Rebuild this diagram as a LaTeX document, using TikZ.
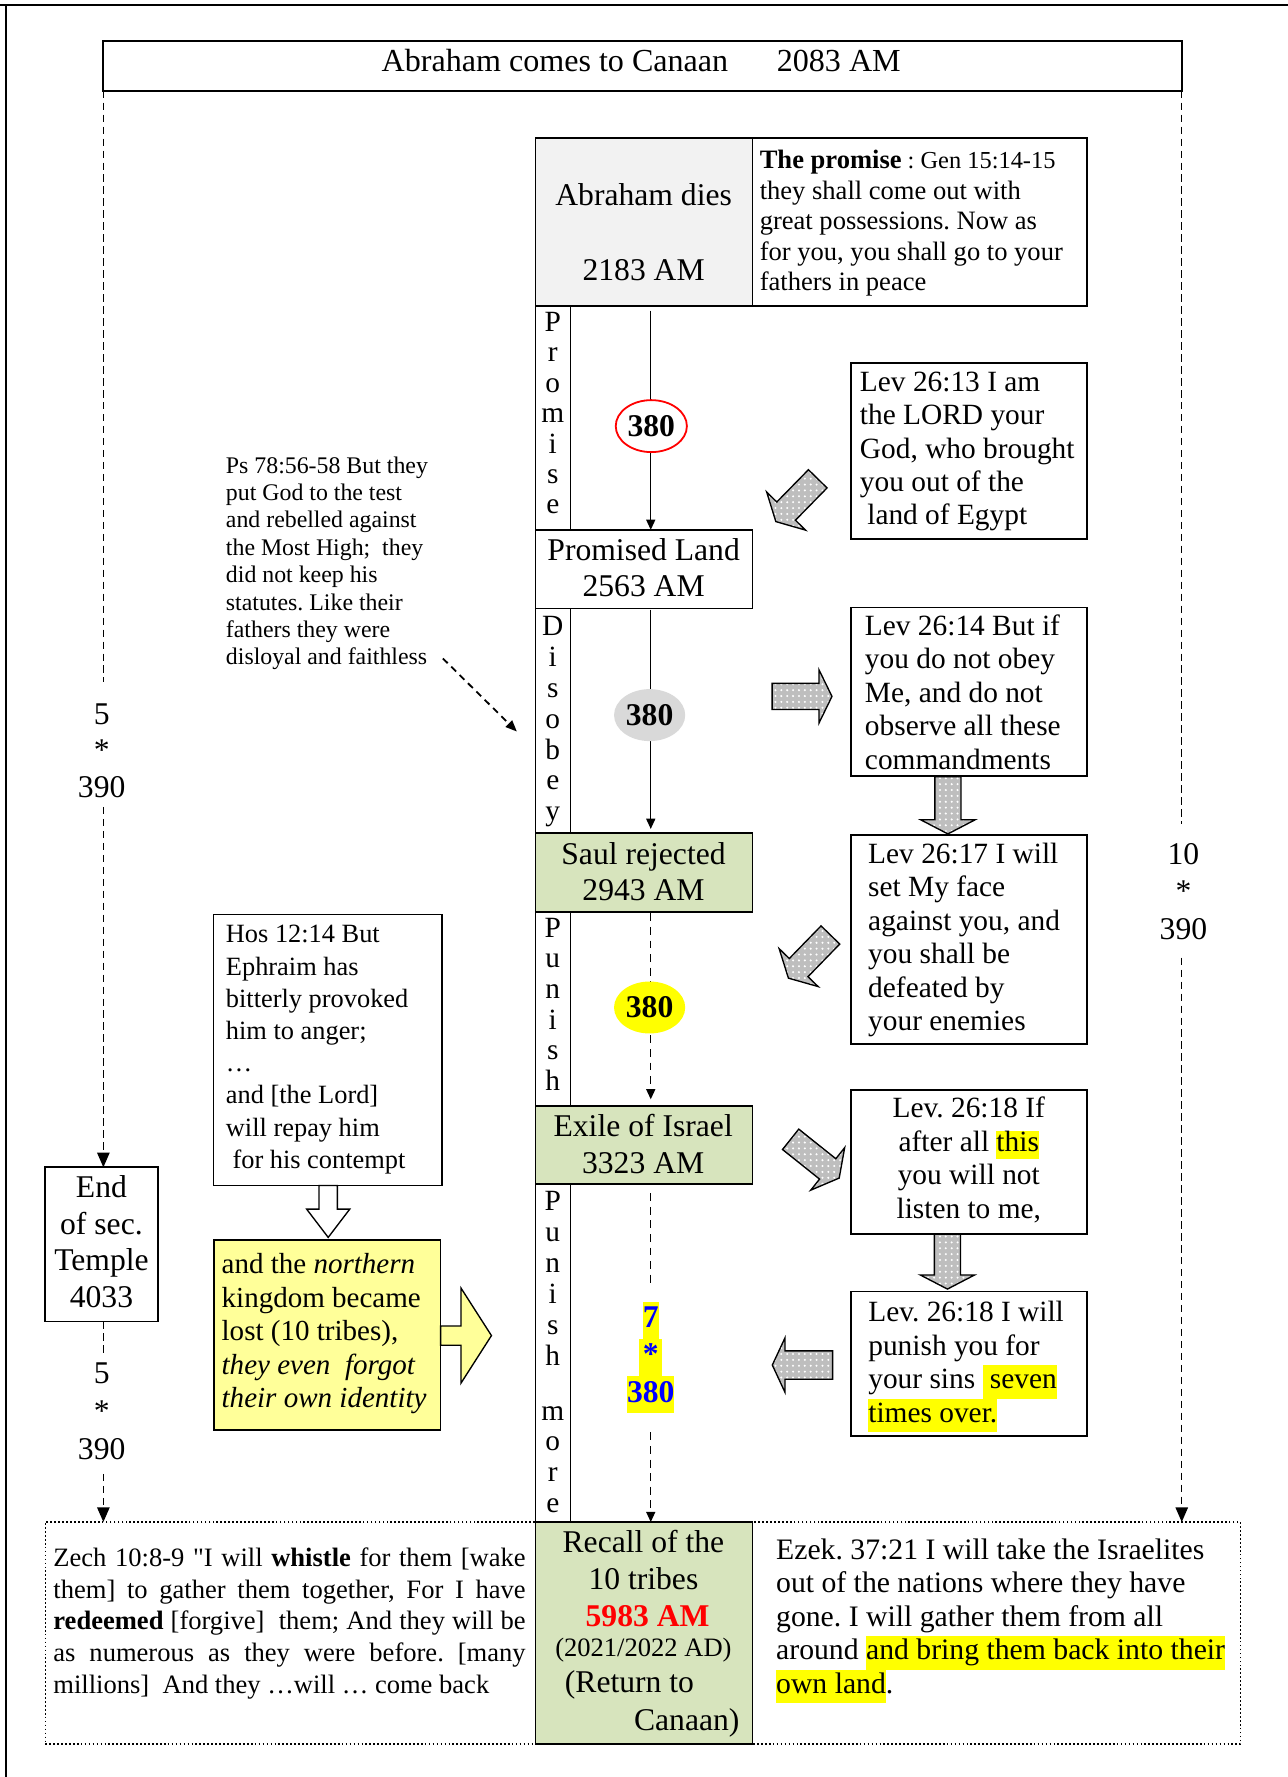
\documentclass[tikz,border=0pt]{standalone}
\usepackage{fontspec}
\setmainfont{Liberation Serif}[Ligatures=TeXOff]
\usetikzlibrary{arrows.meta,patterns.meta,shapes.geometric,fit}
\definecolor{greenbox}{HTML}{D7E4BD}
\definecolor{graybox}{HTML}{F2F2F2}
\definecolor{ellgray}{HTML}{D9D9D9}
\definecolor{lightyel}{HTML}{FFFF99}
\definecolor{hlyel}{HTML}{FFFF00}
\definecolor{arrgray}{HTML}{BEBEBE}
\definecolor{numblue}{HTML}{0000FF}
\definecolor{numred}{HTML}{FF0000}
\frenchspacing
\newcommand{\linesL}[1]{\begin{tabular}[t]{@{}l@{}}#1\end{tabular}}
\newcommand{\linesC}[1]{\begin{tabular}[t]{@{}c@{}}#1\end{tabular}}
\newcommand{\hly}[1]{{\setlength{\fboxsep}{0pt}\colorbox{hlyel}{\strut #1}}}
\newcommand{\hlthin}[1]{{\setlength{\fboxsep}{0pt}\colorbox{hlyel}{\vrule height 7.5pt depth 3.3pt width 0pt #1}}}
\newcommand{\boxnode}[6][]{\node[boxst,#1,fit={(#2,#3) (#4,#5)}] (#6) {};}
\newcommand{\blockarrow}[7]{%
  \begin{scope}[shift={#1},rotate=#2]
    \path[#7] (0,-#4) -- ({#3-#6},-#4) -- ({#3-#6},-#5) -- (#3,0) -- ({#3-#6},#5) -- ({#3-#6},#4) -- (0,#4) -- cycle;
  \end{scope}}
\begin{document}
\begin{tikzpicture}[x=0.5pt,y=-0.50155pt,
  boxst/.style={draw, line width=0.75pt, inner sep=0pt, outer sep=0pt},
  tx/.style={inner sep=0pt, outer sep=0pt, anchor=base west},
  txc/.style={inner sep=0pt, outer sep=0pt, anchor=base},
  txr/.style={inner sep=0pt, outer sep=0pt, anchor=base east},
  flow/.style={line width=0.6pt, -{Triangle[length=4.5pt,width=4pt]}},
  flowdash/.style={line width=0.6pt, dash pattern=on 3.5pt off 2.5pt},
  bigdash/.style={line width=0.6pt, dash pattern=on 3.3pt off 2pt},
  bigtip/.style={-{Triangle[length=6.5pt,width=5.5pt]}},
  grayarrow/.style={draw=black, line width=0.6pt, preaction={fill=arrgray}, pattern={Dots[distance=2.6pt,radius=0.5pt]}, pattern color=white},
  ell/.style={ellipse, inner sep=0pt, outer sep=0pt, minimum width=31.5pt, minimum height=23pt, font=\fontsize{14}{16}\selectfont\bfseries}]
\useasboundingbox (0,0) rectangle (1140,1568);
% page frame
\draw[line width=0.8pt] (0,4.5) -- (1140,4.5);
\draw[line width=0.8pt] (5,4.5) -- (5,1568);
% boxes
\boxnode[densely dotted, line width=0.6pt]{40}{1343}{1098}{1539}{frame}
\boxnode[line width=0.9pt]{91.5}{36}{1046}{80}{title}
\boxnode[fill=graybox]{474}{122}{666}{270}{abr}
\boxnode{666}{122}{962}{270}{prom}
\boxnode{474}{270}{505}{467.5}{stripP}
\boxnode{474}{467.5}{666}{537}{pland}
\boxnode{474}{537}{505}{735}{stripD}
\boxnode[fill=greenbox]{474}{735}{666}{805}{saul}
\boxnode{474}{805}{505}{976}{stripU}
\boxnode[fill=greenbox]{474}{976}{666}{1045}{exile}
\boxnode{474}{1045}{505}{1343}{stripM}
\boxnode[fill=greenbox]{474}{1343}{666}{1539}{recall}
\boxnode{753}{320}{962}{475.5}{levA}
\boxnode{753}{536}{962}{685}{levB}
\boxnode{753}{737}{962}{921}{levC}
\boxnode{753}{962}{962}{1089}{levD}
\boxnode{753}{1139.5}{962}{1267}{levE}
\boxnode{189}{807}{391}{1046}{hos}
\boxnode[fill=lightyel]{189.5}{1094}{390}{1262}{yel}
\boxnode{40}{1030}{140}{1166}{endb}
% texts
\node[txc, font=\fontsize{14.2}{17}\selectfont] (titlet) at (567.5,63.2) {Abraham comes to Canaan\hspace{21.5pt}2083 AM};
\node[txc, font=\fontsize{14}{33.3}\selectfont] (abrt) at (569.7,181.5) {\linesC{Abraham dies\\2183 AM}};
\node[tx, font=\fontsize{11.75}{13.5}\selectfont] (promt) at (672.5,149) {\linesL{\textbf{The promise}{\fontsize{10.8}{13.5}\selectfont{} : Gen 15:14-15}\\they shall come out with\\great possessions. Now as\\for you, you shall go to your\\fathers in peace}};
\node[tx, font=\fontsize{13}{14.75}\selectfont] (levAt) at (761.2,345.5) {\linesL{Lev 26:13 I am\\the LORD your\\God, who brought\\you out of the\\\ land of Egypt}};
\node[tx, font=\fontsize{13}{14.8}\selectfont] (levBt) at (765.6,560.8) {\linesL{Lev 26:14 But if\\you do not obey\\Me, and do not\\observe all these\\commandments}};
\node[tx, font=\fontsize{13}{14.85}\selectfont] (levCt) at (768.5,761.5) {\linesL{Lev 26:17 I will\\set My face\\against you, and\\you shall be\\defeated by\\your enemies}};
\node[txc, font=\fontsize{13}{14.95}\selectfont] (levDt) at (857.5,986) {\linesC{Lev. 26:18 If\\after all \hlthin{this}\\you will not\\listen to me,}};
\node[tx, font=\fontsize{13}{14.8}\selectfont] (levEt) at (768.6,1166.5) {\linesL{Lev. 26:18 I will\\punish you for\\your sins \hly{\ seven}\\\hly{times over.}}};
\node[txc, font=\fontsize{14}{15.75}\selectfont] (plandt) at (569.7,494.5) {\linesC{Promised Land\\2563 AM}};
\node[txc, font=\fontsize{14}{16}\selectfont] (sault) at (569.6,763) {\linesC{Saul rejected\\2943 AM}};
\node[txc, font=\fontsize{14}{16.4}\selectfont] (exilet) at (569.3,1003) {\linesC{Exile of Israel\\3323 AM}};
\node[txc, font=\fontsize{14}{16.25}\selectfont] (recallt) at (569.5,1370) {\linesC{Recall of the\\10 tribes\\\hspace{3.7pt}{\bfseries\color{numred}5983 AM}\\[-2.95pt]{\fontsize{11.75}{14}\selectfont (2021/2022 AD)}}};
\node[tx, font=\fontsize{14}{16}\selectfont] (recallt2) at (500,1493) {(Return to};
\node[txr, font=\fontsize{14}{16}\selectfont] (recallt3) at (654.5,1527) {Canaan)};
\node[txc, font=\fontsize{13}{13.45}\selectfont] (stripPt) at (489.3,292.5) {\linesC{P\\r\\o\\m\\i\\s\\e}};
\node[txc, font=\fontsize{13}{13.7}\selectfont] (stripDt) at (489.3,560.5) {\linesC{D\\i\\s\\o\\b\\e\\y}};
\node[txc, font=\fontsize{13}{13.55}\selectfont] (stripUt) at (489.3,827) {\linesC{P\\u\\n\\i\\s\\h}};
\node[txc, font=\fontsize{13}{13.65}\selectfont] (stripMt) at (489.3,1068.5) {\linesC{P\\u\\n\\i\\s\\h\\[10.65pt]m\\o\\r\\e}};
\node[tx, font=\fontsize{10.55}{12.12}\selectfont] (pst) at (200,417.5) {\linesL{Ps 78:56-58 But they\\put God to the test\\and rebelled against\\the Most High;\ \ they\\did not keep his\\statutes. Like their\\fathers they were\\disloyal and faithless}};
\node[tx, font=\fontsize{11.67}{14.25}\selectfont] (host) at (200,832) {\linesL{Hos 12:14 But\\Ephraim has\\bitterly provoked\\him to anger;\\…\\and [the Lord]\\will repay him\\\ for his contempt}};
\node[tx, font=\fontsize{12.85}{14.8}\selectfont] (yelt) at (196.2,1124) {\linesL{and the \textit{northern}\\kingdom became\\lost (10 tribes),\\\textit{they even\ \ forgot}\\\textit{their own identity}}};
\node[txc, font=\fontsize{14}{16.15}\selectfont] (endt) at (89.8,1057) {\linesC{End\\of sec.\\Temple\\4033}};
\node[tx, font=\fontsize{11.75}{14.1}\selectfont] (zecht) at (47.3,1382) {\linesL{\makebox[209pt][s]{Zech 10:8-9 "I will \textbf{whistle} for them [wake}\\\makebox[209pt][s]{them] to gather them together, For I have}\\\makebox[209pt][s]{\textbf{redeemed} [forgive]\ \ them; And they will be}\\\makebox[209pt][s]{as numerous as they were before. [many}\\millions]\ \ And they …will … come back}};
\node[tx, font=\fontsize{13.15}{14.8}\selectfont] (ezekt) at (687,1376) {\linesL{Ezek. 37:21 I will take the Israelites\\out of the nations where they have\\gone. I will gather them from all\\around \hly{and bring them back into their}\\\hly{own land}.}};
\node[txc, font=\fontsize{14}{16.25}\selectfont] (lab1) at (90,639) {\linesC{5\\{*}\\390}};
\node[txc, font=\fontsize{14}{16.5}\selectfont] (lab2) at (1047.5,763) {\linesC{10\\{*}\\390}};
\node[txc, font=\fontsize{14}{16.8}\selectfont] (lab3) at (90,1220.5) {\linesC{5\\{*}\\390}};
\node[txc, text=numblue, font=\fontsize{14}{16.5}\selectfont\bfseries] (sevent) at (576,1171.5) {\linesC{\hly{7}\\\hly{\kern1.5pt*\kern1.5pt}\\\hly{380}}};
% coordinates
\coordinate (axis) at (576,0);
\coordinate (gapTop) at (576,1135);
\coordinate (gapBot) at (576,1264);
\coordinate (lgapA) at (91.5,602);
\coordinate (lgapB) at (91.5,712);
\coordinate (lgapC) at (91.5,1195);
\coordinate (lgapD) at (91.5,1300.6);
\coordinate (rgapA) at (1046,727);
\coordinate (rgapB) at (1046,845);
\coordinate (psA) at (392,581);
\coordinate (psB) at (457.5,645.5);
% connectors
\draw[flow, shorten <=2pt] (abr.south -| axis) -- (pland.north -| axis);
\draw[flow, shorten <=0.5pt, shorten >=1.8pt] (pland.south -| axis) -- (saul.north -| axis);
\draw[flowdash, -{Triangle[length=4.5pt,width=4pt]}, shorten <=0.5pt, shorten >=3pt] (saul.south -| axis) -- (exile.north -| axis);
\draw[flowdash, shorten <=4pt] (exile.south -| axis) -- (gapTop);
\draw[flowdash, -{Triangle[length=4.5pt,width=4pt]}] (gapBot) -- (recall.north -| axis);
\draw[line width=0.8pt, dash pattern=on 3pt off 2.2pt, -{Triangle[length=5pt,width=4pt]}] (psA) -- (psB);
\draw[bigdash] (title.south west) -- (lgapA);
\draw[bigdash, bigtip] (lgapB) -- (lgapB |- endb.north);
\draw[bigdash] (lgapC |- endb.south) -- (lgapC);
\draw[bigdash, bigtip] (lgapD) -- (lgapD |- frame.north);
\draw[bigdash] (title.south east) -- (rgapA);
\draw[bigdash, bigtip] (rgapB) -- (rgapB |- frame.north);
% ellipses
\node[ell, draw=red, line width=0.8pt, fill=white] (e1) at (576.5,376) {380};
\node[ell, fill=ellgray] (e2) at (575,631) {380};
\node[ell, fill=hlyel] (e3) at (575,889) {380};
% block arrows
\blockarrow{(723.8,422.5)}{225.6}{53}{11.5}{24}{13}{grayarrow}
\blockarrow{(683.4,614.5)}{0}{53}{11.5}{23.5}{11.5}{grayarrow}
\blockarrow{(839,685.4)}{270}{50.6}{11.5}{24}{12.5}{grayarrow}
\blockarrow{(735,825)}{225.8}{53.3}{11.5}{24}{13}{grayarrow}
\blockarrow{(699.8,1005.3)}{-38.6}{55}{11.5}{24}{13}{grayarrow}
\blockarrow{(838.6,1089)}{270}{48.6}{11.5}{24}{12.5}{grayarrow}
\blockarrow{(737,1204.5)}{180}{53.4}{12.5}{24}{11.2}{grayarrow}
\blockarrow{(390,1178.5)}{0}{45}{8.5}{42}{27}{draw=black, line width=0.6pt, fill=lightyel}
\blockarrow{(290.5,1046)}{270}{46}{8.1}{19}{25}{draw=black, line width=0.6pt, fill=white}
\end{tikzpicture}
\end{document}
